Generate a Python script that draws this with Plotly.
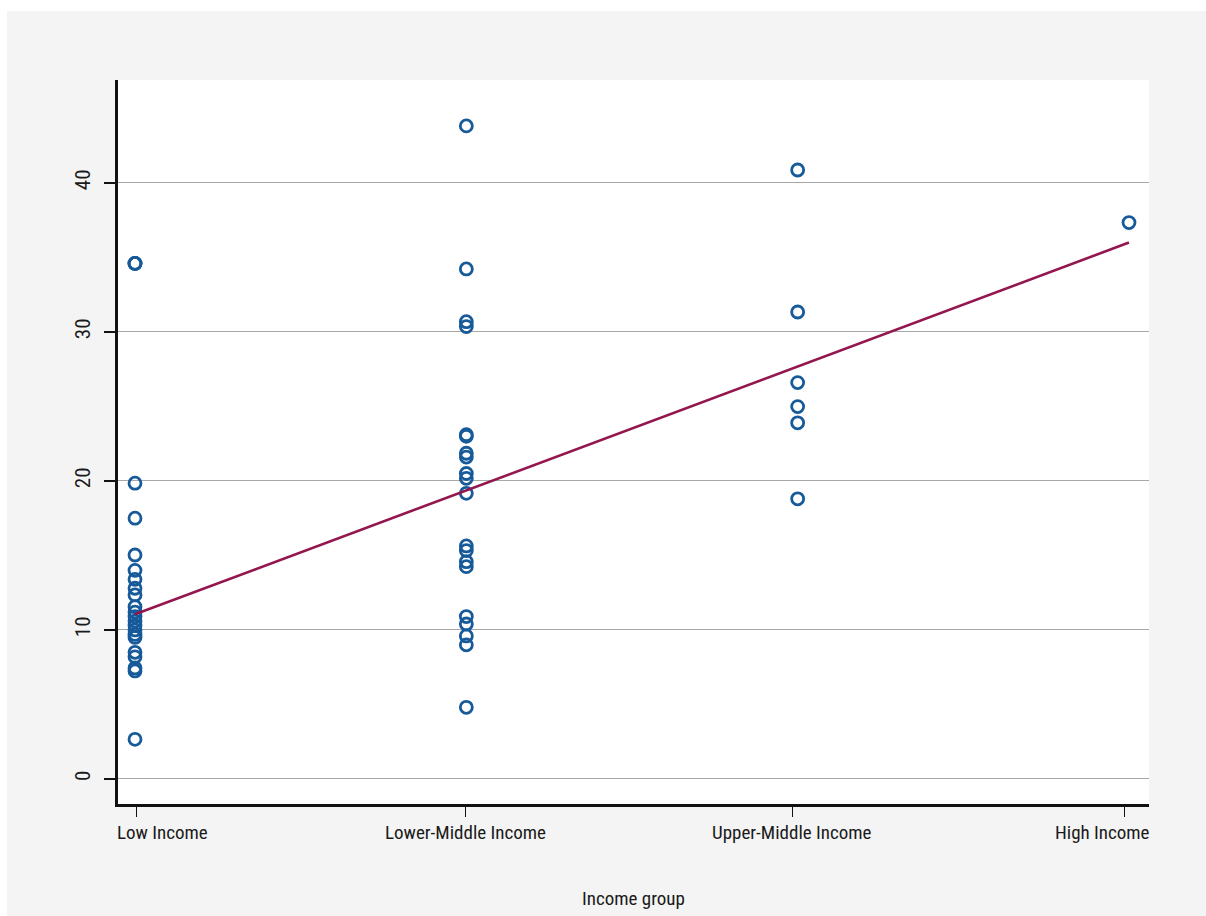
import plotly.graph_objects as go

# ---- data ----
categories = ["Low Income", "Lower-Middle Income", "Upper-Middle Income", "High Income"]
cat_pos = [1, 2, 3, 4]
tick_pos = [1.006, 1.996, 2.983, 3.985]

low_income = [34.6, 34.6, 34.6, 19.85, 17.5, 15.03, 14.0, 13.4, 12.8, 12.35, 11.56,
              11.2, 10.9, 10.6, 10.3, 10.0, 9.7, 9.5, 8.5, 8.2, 7.45, 7.25, 2.66]
lower_middle = [43.83, 34.23, 30.69, 30.36, 23.1, 23.0, 21.86, 21.6, 20.5, 20.18, 19.17,
                15.64, 15.33, 14.58, 14.25, 10.9, 10.4, 9.6, 9.0, 4.81]
upper_middle = [40.87, 31.34, 26.6, 24.99, 23.9, 18.8]
high_income = [37.34]

fit_x = [1, 4]
fit_y = [11.05, 36.0]

y_ticks = [0, 10, 20, 30, 40]

groups = [low_income, lower_middle, upper_middle, high_income]
xs, ys = [], []
for pos, vals in zip(cat_pos, groups):
    xs += [pos] * len(vals)
    ys += vals

FONT = "Roboto Condensed, DejaVu Sans Condensed, sans-serif"
BLUE = "#165a9a"
RED = "#93164f"
GRAY_BG = "#f4f4f4"
TXT = "#1a1a1a"

fig = go.Figure()
fig.add_trace(go.Scatter(
    x=xs, y=ys, mode="markers",
    marker=dict(symbol="circle-open", size=12, color=BLUE, line=dict(width=2.8, color=BLUE)),
    showlegend=False, hoverinfo="x+y",
))
fig.add_trace(go.Scatter(
    x=fit_x, y=fit_y, mode="lines",
    line=dict(color=RED, width=2.6),
    showlegend=False,
))

L, R, T, B = 118, 57, 80, 112
W, H = 1206, 916
PW, PH = W - L - R, H - T - B

annotations = []
anchors = ["left", "center", "center", "right"]
for i, (tv, txt) in enumerate(zip(tick_pos, categories)):
    annotations.append(dict(
        x=tv, y=0, xref="x", yref="paper", text=txt, showarrow=False,
        xanchor=anchors[i], yanchor="middle", yshift=-28,
        xshift=(-22 if i == 0 else (28 if i == 3 else 0)),
        font=dict(family=FONT, size=19, color=TXT),
    ))
annotations.append(dict(
    x=0.5, y=0, xref="paper", yref="paper", text="Income group", showarrow=False,
    xanchor="center", yanchor="middle", yshift=-94,
    font=dict(family=FONT, size=19, color=TXT),
))

shapes = [
    dict(type="rect", xref="paper", yref="paper", layer="above",
         x0=-L / PW, x1=-(L - 7) / PW, y0=-B / PH, y1=(PH + T) / PH,
         fillcolor="white", line=dict(width=0)),
    dict(type="rect", xref="paper", yref="paper", layer="above",
         x0=-L / PW, x1=(PW + R) / PW, y0=(PH + T - 11) / PH, y1=(PH + T) / PH,
         fillcolor="white", line=dict(width=0)),
]

fig.update_layout(
    width=W, height=H,
    margin=dict(l=L, r=R, t=T, b=B, pad=0),
    paper_bgcolor=GRAY_BG,
    plot_bgcolor="white",
    font=dict(family=FONT, size=20, color=TXT),
    annotations=annotations,
    shapes=shapes,
    xaxis=dict(
        range=[0.9487, 4.0604], tickmode="array", tickvals=tick_pos,
        ticktext=[""] * len(tick_pos), showticklabels=False,
        ticks="outside", ticklen=10, tickwidth=1.2, tickcolor="#111",
        showline=True, linewidth=2.6, linecolor="#111",
        showgrid=False, zeroline=False,
    ),
    yaxis=dict(
        range=[-1.68, 46.91], tickmode="array", tickvals=y_ticks,
        ticktext=[str(v) for v in y_ticks], tickangle=-90,
        ticks="outside", ticklen=11, tickwidth=1.6, tickcolor="#111",
        ticklabelstandoff=6,
        showline=True, linewidth=2.6, linecolor="#111",
        showgrid=True, gridcolor="#a8a8a8", gridwidth=1, zeroline=False,
        tickfont=dict(family=FONT, size=21, color=TXT),
    ),
)

fig.write_html("out.html", config={"displayModeBar": False},
               post_script="document.body.style.margin='0';document.body.style.overflow='hidden';")
